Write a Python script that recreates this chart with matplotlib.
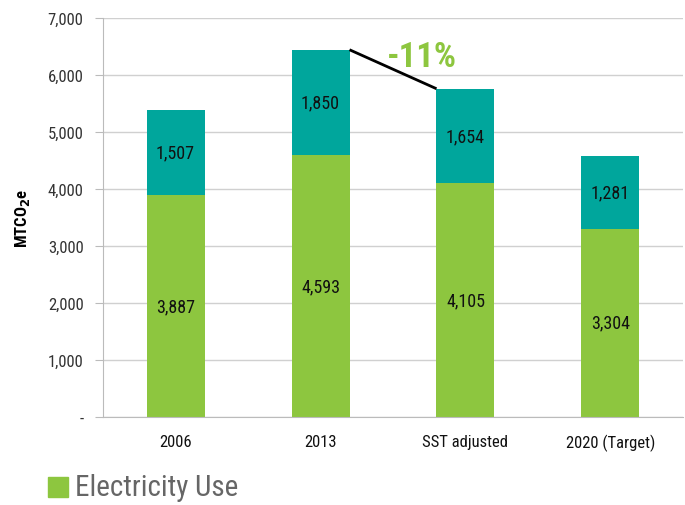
import matplotlib
matplotlib.use("Agg")
import matplotlib.pyplot as plt
from matplotlib.patches import Rectangle
from matplotlib import font_manager

names = {f.name for f in font_manager.fontManager.ttflist}
fam = 'Liberation Sans'
for c in ['Roboto Condensed', 'Archivo Narrow', 'PT Sans Narrow', 'Liberation Sans Narrow']:
    if c in names:
        fam = c
        break
plt.rcParams['font.family'] = [fam, 'DejaVu Sans']

categories = ['2006', '2013', 'SST adjusted', '2020 (Target)']
electricity = [3887, 4593, 4105, 3304]
other = [1507, 1850, 1654, 1281]
yticks = [0, 1000, 2000, 3000, 4000, 5000, 6000, 7000]
yticklabels = ['-', '1,000', '2,000', '3,000', '4,000', '5,000', '6,000', '7,000']
change_label = '-11%'

green = '#8DC63F'
teal = '#00A69C'
grid = '#D0D0D0'

fig = plt.figure(figsize=(6.85, 5.06), dpi=100)
ax = fig.add_axes([103/685, 1-418/506, 580/685, (418-19)/506])
x = list(range(len(categories)))
w = 0.4
ax.bar(x, electricity, w, color=green, zorder=2)
ax.bar(x, other, w, bottom=electricity, color=teal, zorder=2)
for i in x:
    ax.text(i, electricity[i]/2, f'{electricity[i]:,}', ha='center', va='center', fontsize=13, color='#111111', zorder=3)
    ax.text(i, electricity[i] + other[i]/2, f'{other[i]:,}', ha='center', va='center', fontsize=13, color='#111111', zorder=3)

t1 = electricity[1] + other[1]
t2 = electricity[2] + other[2]
ax.plot([1 + w/2, 2 - w/2], [t1, t2], color='black', lw=2, zorder=4, solid_capstyle='butt')
ax.text(1.70, 6330, change_label, ha='center', va='center', fontsize=25, fontweight='bold', color=green, zorder=4)

ax.set_xlim(-0.5, 3.5)
ax.set_ylim(0, 7000)
ax.set_yticks(yticks)
ax.set_yticklabels(yticklabels, fontsize=12, color='#333333')
ax.set_xticks(x)
ax.set_xticklabels(categories, fontsize=12, color='#111111')
ax.yaxis.grid(True, color=grid, lw=1, zorder=0)
ax.set_axisbelow(True)
for s in ['top', 'right']:
    ax.spines[s].set_visible(False)
ax.spines['left'].set_color('#BBBBBB')
ax.spines['bottom'].set_color('#BBBBBB')
ax.tick_params(axis='y', length=6, color='#BBBBBB', pad=8)
ax.tick_params(axis='x', length=0, pad=12)
ax.set_ylabel('MTCO$_\\mathbf{2}$e', fontsize=12, fontweight='bold', labelpad=11)

fig.patches.append(Rectangle((48/685, 1-498/506), 20/685, 20/506, transform=fig.transFigure, color=green, figure=fig))
fig.text(75/685, 1-488/506, 'Electricity Use', fontsize=21, color='#666666', va='center', ha='left')

fig.savefig('out.png', dpi=100)
